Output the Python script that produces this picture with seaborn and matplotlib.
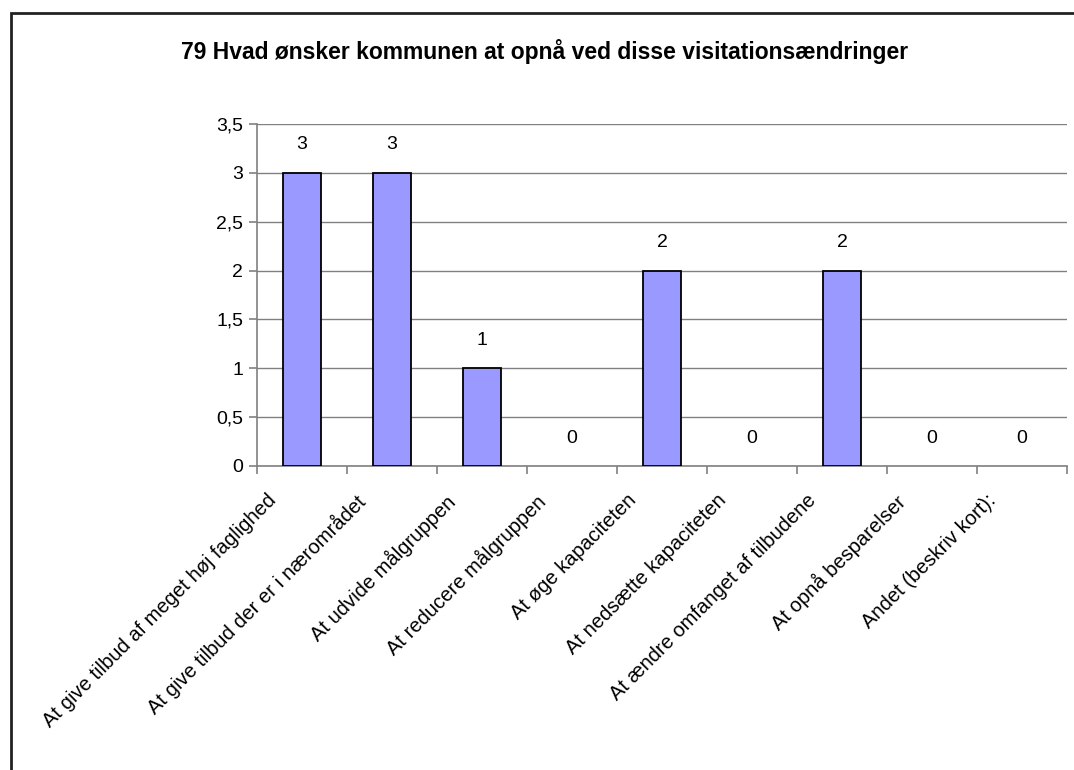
import matplotlib
matplotlib.use("Agg")
import matplotlib.pyplot as plt
import matplotlib.transforms as mtransforms
from matplotlib.patches import Rectangle
from matplotlib.ticker import FixedLocator, FuncFormatter, NullFormatter
import seaborn as sns

title = "79 Hvad ønsker kommunen at opnå ved disse visitationsændringer"
categories = [
    "At give tilbud af meget høj faglighed",
    "At give tilbud der er i nærområdet",
    "At udvide målgruppen",
    "At reducere målgruppen",
    "At øge kapaciteten",
    "At nedsætte kapaciteten",
    "At ændre omfanget af tilbudene",
    "At opnå besparelser",
    "Andet (beskriv kort):",
]
counts = [3, 3, 1, 0, 2, 0, 2, 0, 0]
y_ticks = [0, 0.5, 1, 1.5, 2, 2.5, 3, 3.5]

sns.set_theme(style="white")
plt.rcParams["font.family"] = ["Liberation Sans", "DejaVu Sans"]

fig = plt.figure(figsize=(10.74, 7.70), dpi=100)
ax = fig.add_axes([257 / 1074, 1 - 466 / 770, (1067 - 257) / 1074, (466 - 124) / 770])

sns.barplot(x=categories, y=counts, color="#9999FF", saturation=1,
            edgecolor="black", linewidth=1.3, width=0.42, ax=ax, zorder=3)
# empty categories get no outline
for bar in ax.patches:
    if bar.get_height() == 0:
        bar.set_linewidth(0)

ax.set_xlim(-0.5, len(categories) - 0.5)
ax.set_ylim(0, 3.5)
ax.set_yticks(y_ticks)
ax.yaxis.set_major_formatter(FuncFormatter(lambda v, _: f"{v:g}".replace(".", ",")))
ax.grid(axis="y", color="#808080", linewidth=1.0, zorder=0)
ax.grid(axis="x", visible=False)

for side in ("top", "right"):
    ax.spines[side].set_visible(False)
for side in ("left", "bottom"):
    ax.spines[side].set_color("#808080")
    ax.spines[side].set_linewidth(1.2)

ax.tick_params(axis="y", which="major", length=6, width=1.2, color="#808080",
               labelsize=14, pad=4, left=True, labelcolor="black")
# category separators on the x axis
ax.xaxis.set_minor_locator(FixedLocator([i - 0.5 for i in range(len(categories) + 1)]))
ax.xaxis.set_minor_formatter(NullFormatter())
ax.tick_params(axis="x", which="minor", length=6, width=1.2, color="#808080", bottom=True)
ax.tick_params(axis="x", which="major", length=0, labelsize=14.5, pad=18, labelcolor="black")

shift = mtransforms.ScaledTranslation(-22 / 100, 0, fig.dpi_scale_trans)
for lbl in ax.get_xticklabels():
    lbl.set_rotation(45)
    lbl.set_ha("right")
    lbl.set_va("top")
    lbl.set_transform(lbl.get_transform() + shift)

for i, v in enumerate(counts):
    ax.annotate(f"{v}", xy=(i, v), xytext=(0, 14), textcoords="offset points",
                ha="center", va="bottom", fontsize=14, color="black")

ax.set_xlabel("")
ax.set_ylabel("")

fig.text(545 / 1074, 1 - 52 / 770, title, ha="center", va="center",
         fontsize=16.5, fontweight="bold", color="black")

# chart frame
fig.patches.append(Rectangle((11 / 1074, -0.05), 1.1, 1 - 13 / 770 + 0.05,
                             transform=fig.transFigure, fill=False,
                             edgecolor="#222222", linewidth=2, clip_on=False))

fig.savefig("out.png", dpi=100, facecolor="white")
